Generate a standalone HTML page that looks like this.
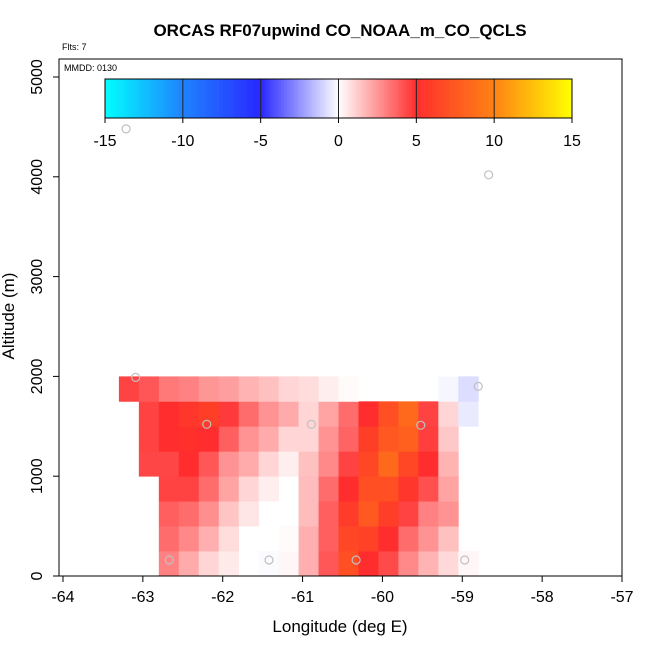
<!DOCTYPE html>
<html><head><meta charset="utf-8"><style>
body{margin:0;background:#fff;font-family:"Liberation Sans",sans-serif}
svg text{font-family:"Liberation Sans",sans-serif}
</style></head><body>
<svg id="c" width="650" height="650"></svg>
<script>
const lonStart=-63.3, lonStep=0.25, altStep=250;
// rows: altitude bins from 0-250 (index 0) up to 1750-2000 (index 7); 18 longitude columns
const row0=[null,null,3,2,1,0.5,null,-0.1,0.2,1.9,4,7,5,4.3,2.8,1.8,0.9,0.2];
const row1=[null,null,3.5,2.8,1.9,0.8,null,null,0.1,1.9,3.8,6.5,6.2,5,3.5,2.6,1.5,null];
const row2=[null,null,3.8,3.5,2.7,1.4,0.6,null,null,1.6,3.8,5.8,7.5,6,4.5,3,2.6,null];
const row3=[null,null,4.5,4.5,3.5,2.2,1,0.4,null,1.6,3.5,5,7,7,5.5,4.2,2.2,null];
const row4=[null,4.4,4.4,5,4,2.6,2,1,0.4,1.5,2.8,4.5,6.5,8.5,6.5,5,1.8,null];
const row5=[null,4.5,5,5.2,5,3.8,2.6,2,1,1,2.6,3.7,6,7.5,8,4.6,1.3,null];
const row6=[null,4.5,5,5.5,6,4.7,3.5,2.6,2,1,2.2,3.5,5,7,8.5,4.5,1,-0.5];
const row7=[4.5,4,3.2,3,2.5,2.3,1.8,1.5,1,0.8,0.4,0.1,null,null,null,null,-0.2,-0.8];
const rows=[row0,row1,row2,row3,row4,row5,row6,row7];
const ptLon=[-63.21,-63.09,-62.2,-62.67,-61.42,-60.89,-60.33,-59.52,-58.97,-58.8,-58.67];
const ptAlt=[4480,1990,1520,160,160,1520,160,1510,160,1900,4020];
const xTicks=[-64,-63,-62,-61,-60,-59,-58,-57];
const yTicks=[0,1000,2000,3000,4000,5000];
const cbTicks=[-15,-10,-5,0,5,10,15];

const NS="http://www.w3.org/2000/svg", svg=document.getElementById('c');
function el(t,a,p){const e=document.createElementNS(NS,t);for(const k in a)e.setAttribute(k,a[k]);(p||svg).appendChild(e);return e;}
const X=v=>63+(v+64)*(559/7), Y=v=>576-v*0.0998;
const stops=[[-15,[0,255,255]],[-10,[30,130,255]],[-5,[40,40,255]],[0,[255,255,255]],[5,[255,45,45]],[10,[255,130,20]],[15,[255,255,0]]];
function col(v){v=Math.max(-15,Math.min(15,v));for(let i=0;i<stops.length-1;i++){const[a,ca]=stops[i],[b,cb]=stops[i+1];if(v<=b){const t=(v-a)/(b-a);return'rgb('+ca.map((c,j)=>Math.round(c+(cb[j]-c)*t)).join(',')+')';}}}

let t=el('text',{x:340,y:36,'text-anchor':'middle','font-size':17,'font-weight':'bold'});t.textContent='ORCAS RF07upwind CO_NOAA_m_CO_QCLS';

t=el('text',{x:62,y:50,'font-size':9});t.textContent='Flts: 7';


const cells=el('g',{});

rows.forEach((r,ri)=>r.forEach((v,ci)=>{if(v===null)return;
 const x0=X(lonStart+ci*lonStep),x1=X(lonStart+(ci+1)*lonStep),y1=Y(ri*altStep),y0=Y((ri+1)*altStep);
 const c=el('rect',{x:x0,y:y0,width:x1-x0+0.4,height:y1-y0+0.4,fill:col(v)},cells);
 }));

ptLon.forEach((lo,i)=>{const c=el('circle',{cx:X(lo),cy:Y(ptAlt[i]),r:4,fill:'none',stroke:'#c0c0c0','stroke-width':1.2});
 });

const box=el('rect',{x:59,y:59,width:563,height:517,fill:'none',stroke:'#000','stroke-width':1});

t=el('text',{x:64,y:71,'font-size':9});t.textContent='MMDD: 0130';


// colorbar
const cb=el('g',{});
const CX=v=>105+(v+15)*(467/30);
for(let i=0;i<300;i++){const v=-15+i*0.1;el('rect',{x:CX(v),y:79,width:467/300+0.3,height:39,fill:col(v+0.05)},cb);}
cbTicks.forEach(v=>{if(v>-15&&v<15)el('line',{x1:CX(v),x2:CX(v),y1:79,y2:118,stroke:'#222','stroke-width':1},cb);
 el('line',{x1:CX(v),x2:CX(v),y1:118,y2:123,stroke:'#000'},cb);
 const tt=el('text',{x:CX(v),y:146,'text-anchor':'middle','font-size':16},cb);tt.textContent=v;
 });
el('rect',{x:105,y:79,width:467,height:39,fill:'none',stroke:'#000'},cb);

// axes
const xa=el('g',{});
el('line',{x1:X(-64),x2:X(-57),y1:576,y2:576,stroke:'#000'},xa);
xTicks.forEach(v=>{el('line',{x1:X(v),x2:X(v),y1:576,y2:582,stroke:'#000'},xa);
 const tt=el('text',{x:X(v),y:602,'text-anchor':'middle','font-size':16},xa);tt.textContent=v;
 });
const ya=el('g',{});
el('line',{x1:59,x2:59,y1:Y(0),y2:Y(5000),stroke:'#000'},ya);
yTicks.forEach(v=>{el('line',{x1:53,x2:59,y1:Y(v),y2:Y(v),stroke:'#000'},ya);
 const tt=el('text',{x:42,y:Y(v),'text-anchor':'middle','font-size':16,transform:`rotate(-90 42 ${Y(v)})`},ya);tt.textContent=v;
 });
t=el('text',{x:340,y:632,'text-anchor':'middle','font-size':17});t.textContent='Longitude (deg E)';

t=el('text',{x:14,y:316,'text-anchor':'middle','font-size':17,transform:'rotate(-90 14 316)'});t.textContent='Altitude (m)';

</script>
</body></html>
